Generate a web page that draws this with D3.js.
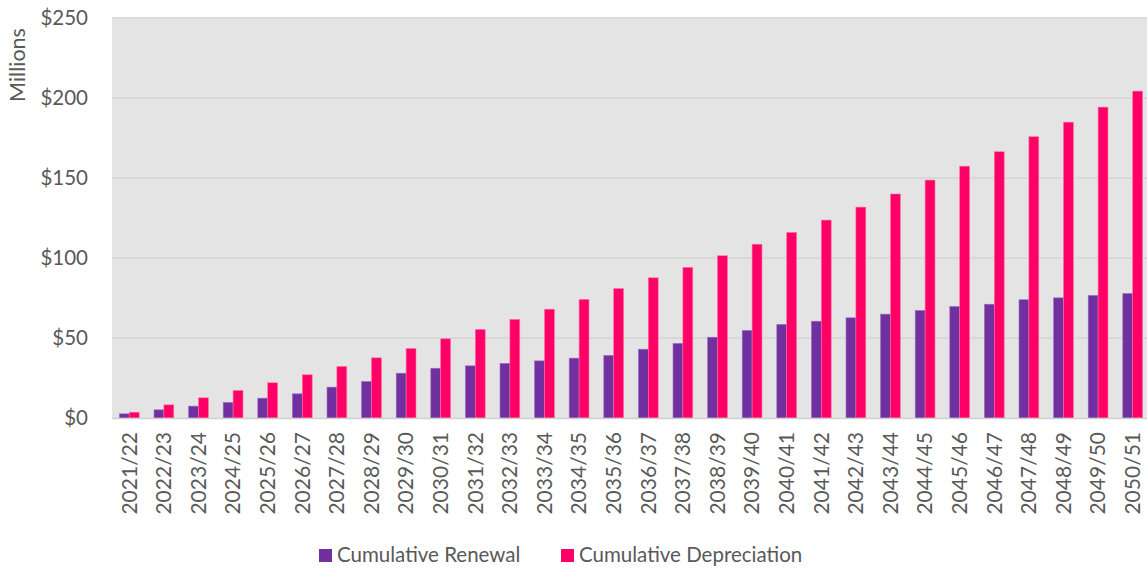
<!DOCTYPE html>
<html>
<head>
<meta charset="utf-8">
<script src="https://cdn.jsdelivr.net/npm/d3@7"></script>
<style>
  body { margin: 0; background: #fff; }
  svg { font-family: Lato, "Open Sans", sans-serif; }
</style>
</head>
<body>
<div id="chart"></div>
<script>
// values in $ millions
var years = ["2021/22","2022/23","2023/24","2024/25","2025/26","2026/27","2027/28","2028/29","2029/30","2030/31",
             "2031/32","2032/33","2033/34","2034/35","2035/36","2036/37","2037/38","2038/39","2039/40","2040/41",
             "2041/42","2042/43","2043/44","2044/45","2045/46","2046/47","2047/48","2048/49","2049/50","2050/51"];
var renewal = [2.6, 5.1, 7.4, 9.7, 12.4, 15.1, 19.3, 22.8, 28.0, 31.1,
               32.6, 34.1, 35.7, 37.4, 39.1, 43.0, 46.6, 50.5, 54.7, 58.5,
               60.5, 62.6, 64.9, 67.2, 69.7, 71.1, 73.9, 75.1, 76.6, 77.8];
var depreciation = [3.6, 8.2, 12.6, 17.2, 22.0, 27.0, 32.2, 37.6, 43.4, 49.5,
                    55.3, 61.6, 68.0, 74.1, 80.9, 87.6, 94.1, 101.4, 108.6, 116.0,
                    123.7, 131.8, 140.0, 148.7, 157.4, 166.4, 175.8, 184.9, 194.3, 204.3];
var seriesNames = ["Cumulative Renewal", "Cumulative Depreciation"];
var colors = ["#7030A0", "#FF0066"];
var yTicks = [0, 50, 100, 150, 200, 250];

var width = 1147, height = 569;
var plotLeft = 112, plotTop = 18, plotBottom = 418, plotRight = 1150;

var svg = d3.select("#chart").append("svg")
  .attr("width", width).attr("height", height);

var x = d3.scaleBand().domain(years).range([plotLeft, plotRight]);
var inner = d3.scaleBand().domain([0, 1]).range([0, x.bandwidth()]).paddingInner(0).paddingOuter(0.75);
var y = d3.scaleLinear().domain([0, 250]).range([plotBottom, plotTop]);

// plot background
svg.append("rect")
  .attr("x", plotLeft).attr("y", plotTop)
  .attr("width", width - plotLeft).attr("height", plotBottom - plotTop)
  .attr("fill", "#E4E4E4");

// gridlines
svg.append("g").selectAll("line")
  .data(yTicks.slice(1))
  .enter().append("line")
    .attr("x1", plotLeft).attr("x2", width)
    .attr("y1", function (d) { return y(d); })
    .attr("y2", function (d) { return y(d); })
    .attr("stroke", "#D4D4D4").attr("stroke-width", 1.5);

// bars
var groups = svg.append("g").selectAll("g")
  .data(years)
  .enter().append("g")
    .attr("transform", function (d) { return "translate(" + x(d) + ",0)"; });

[renewal, depreciation].forEach(function (vals, s) {
  groups.append("rect")
    .attr("x", inner(s))
    .attr("width", inner.bandwidth())
    .attr("y", function (d, i) { return y(vals[i]); })
    .attr("height", function (d, i) { return plotBottom - y(vals[i]); })
    .attr("fill", colors[s])
    .attr("stroke", s === 0 ? "#9a6cc0" : "#ff6fa5")
    .attr("stroke-width", 0.6);
});

// x axis line
svg.append("line")
  .attr("x1", plotLeft).attr("x2", width)
  .attr("y1", plotBottom + 0.5).attr("y2", plotBottom + 0.5)
  .attr("stroke", "#D0D0D0").attr("stroke-width", 1.5);

// y axis labels
var yAxis = d3.axisLeft(y).tickValues(yTicks).tickSize(0).tickPadding(0)
  .tickFormat(function (d) { return "$" + d; });
var gy = svg.append("g").attr("transform", "translate(88,0)").call(yAxis);
gy.select(".domain").remove();
gy.selectAll("text")
  .attr("fill", "#595959")
  .style("font-size", "20.5px")
  .style("font-family", "Lato, sans-serif");

// x axis labels
var xAxis = d3.axisBottom(x).tickSize(0).tickPadding(0);
var gx = svg.append("g").attr("transform", "translate(0," + plotBottom + ")").call(xAxis);
gx.select(".domain").remove();
gx.selectAll("text")
  .attr("fill", "#595959")
  .style("font-size", "21px")
  .style("font-family", "Lato, sans-serif")
  .attr("text-anchor", "end")
  .attr("transform", "rotate(-90)")
  .attr("x", -14)
  .attr("y", 0)
  .attr("dy", "0.35em");

// axis title
svg.append("text")
  .attr("transform", "translate(25,65) rotate(-90)")
  .attr("text-anchor", "middle")
  .attr("fill", "#595959")
  .style("font-size", "21.5px")
  .text("Millions");

// legend
var legendX = [319, 561];
var legend = svg.append("g").selectAll("g")
  .data(seriesNames)
  .enter().append("g")
    .attr("transform", function (d, i) { return "translate(" + legendX[i] + ",549)"; });
legend.append("rect")
  .attr("width", 13).attr("height", 13)
  .attr("fill", function (d, i) { return colors[i]; });
legend.append("text")
  .attr("x", 18).attr("y", 13)
  .attr("fill", "#595959")
  .style("font-size", "20.5px")
  .text(function (d) { return d; });
</script>
</body>
</html>
